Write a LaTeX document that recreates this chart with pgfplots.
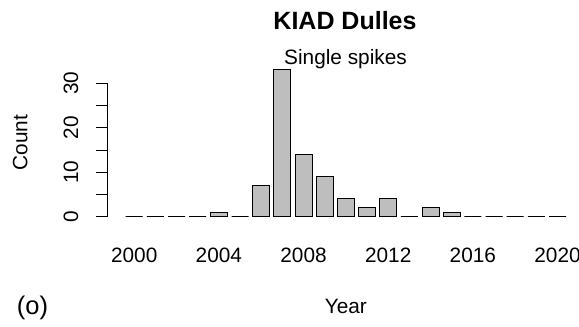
\documentclass[border=0pt]{standalone}
\usepackage{pgfplots}
\pgfplotsset{compat=1.18}
\usepackage{fontspec}
\setmainfont{Liberation Sans}
\definecolor{bargray}{HTML}{BEBEBE}
\newcommand{\fs}{\fontsize{20.8}{25}\selectfont}
\begin{document}
\begin{tikzpicture}[x=1pt,y=1pt]
\useasboundingbox (0,0) rectangle (579,327);
\begin{axis}[
  at={(107pt,110.3pt)}, anchor=south west,
  scale only axis, width=471.7pt, height=133.4pt,
  xmin=1998.715, xmax=2021, ymin=0, ymax=30,
  clip=false,
  axis y line*=left,
  axis x line*=bottom,
  x axis line style={draw=none},
  y axis line style={line width=1pt, black},
  xtick style={draw=none},
  ytick style={line width=1pt, black},
  tick align=outside,
  major tick length=11.3pt,
  ytick={0,5,10,15,20,25,30},
  yticklabels={0,,10,,20,,30},
  yticklabel style={rotate=90, anchor=base, inner sep=0pt, font=\fs, yshift=17.7pt},
  xtick={2000,2004,2008,2012,2016,2020},
  xticklabels={2000,2004,2008,2012,2016,2020},
  xticklabel style={anchor=base, inner sep=0pt, font=\fs, yshift=-34.8pt},
]
\addplot[ybar, fill=bargray, draw=black, line width=1pt, bar width=17pt] coordinates {
(2000,0) (2001,0) (2002,0) (2003,0) (2004,1) (2005,0) (2006,7) (2007,33)
(2008,14) (2009,9) (2010,4) (2011,2) (2012,4) (2013,0) (2014,2) (2015,1)
(2016,0) (2017,0) (2018,0) (2019,0) (2020,0)
};
\end{axis}
\node[anchor=base, font=\bfseries\fontsize{25}{30}\selectfont] at (345,297.7) {KIAD Dulles};
\node[anchor=base, font=\fs] at (345.5,262.7) {Single spikes};
\node[anchor=base, font=\fs] at (345.8,13.7) {Year};
\node[anchor=base, font=\fontsize{25.5}{30}\selectfont] at (32.5,12.4) {(o)};
\node[rotate=90, anchor=base, font=\fs] at (27.5,184.2) {Count};
\end{tikzpicture}
\end{document}
